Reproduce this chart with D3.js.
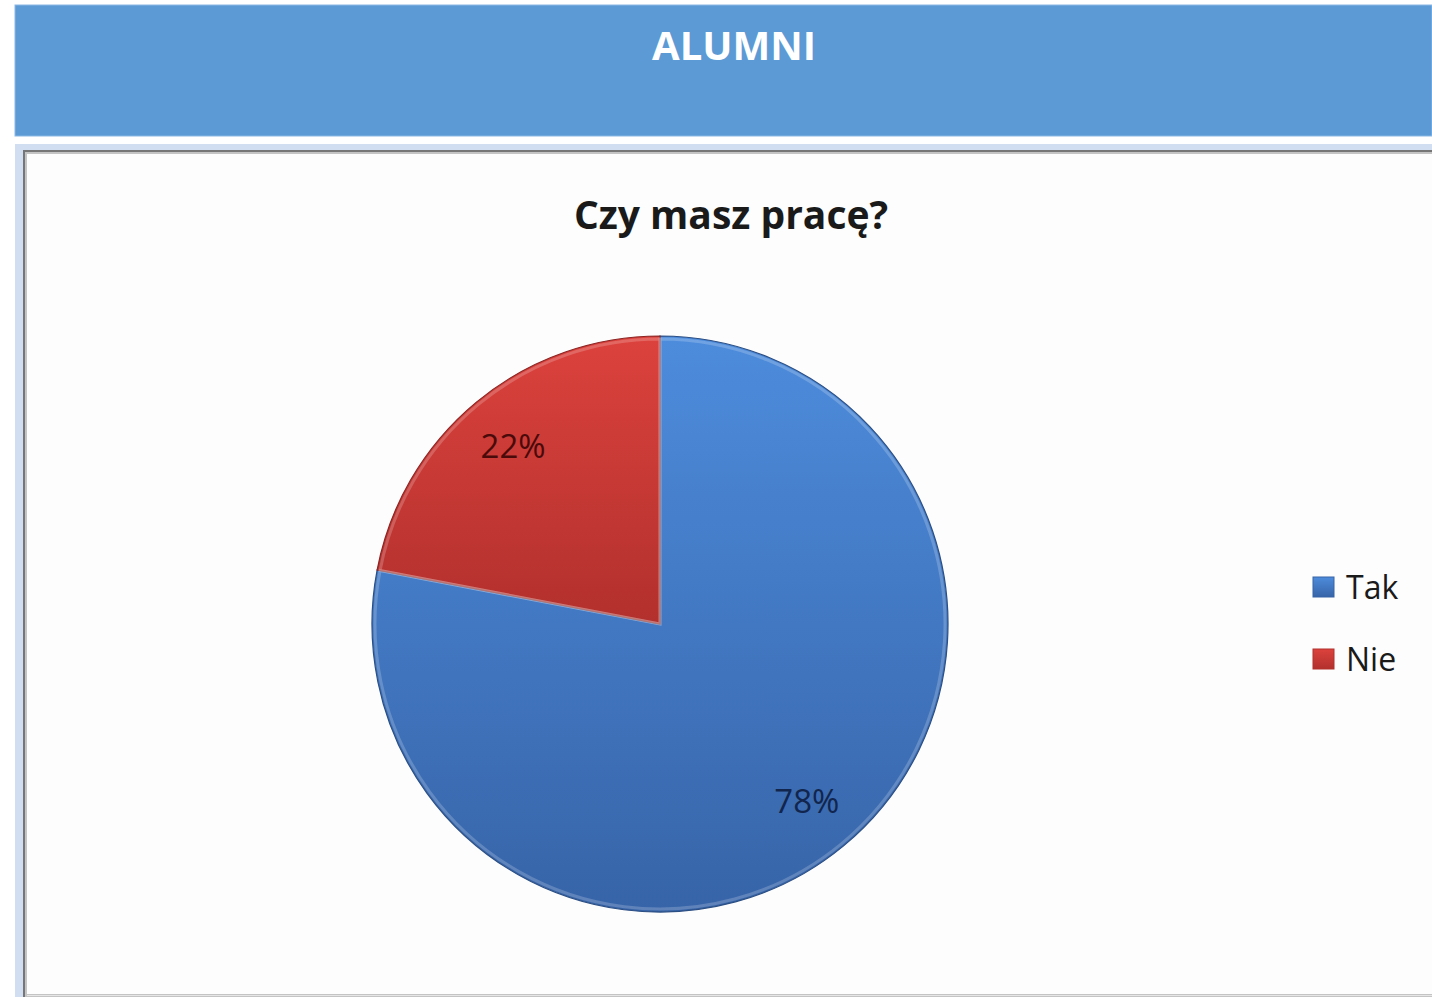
<!DOCTYPE html>
<html>
<head>
<meta charset="utf-8">
<script src="https://cdn.jsdelivr.net/npm/d3@7"></script>
<style>
  html, body { margin: 0; padding: 0; background: #fff; }
  svg { display: block; }
</style>
</head>
<body>
<svg id="chart" width="1432" height="997"></svg>
<script>
// data
var categories = ['Tak', 'Nie'];
var values = [78, 22];
var colors = ['#4a86d3', '#d33f3a'];
var colorsDark = ['#3764a8', '#b2302d'];

var svg = d3.select('#chart');
var defs = svg.append('defs');

// header band
svg.append('rect')
    .attr('x', 15).attr('y', 5)
    .attr('width', 1432 - 15).attr('height', 131)
    .attr('fill', '#5b9ad5')
    .attr('stroke', '#8bb8e4').attr('stroke-width', 1);
svg.append('text')
    .attr('x', 734).attr('y', 60)
    .attr('text-anchor', 'middle')
    .attr('font-family', 'Open Sans, sans-serif')
    .attr('font-weight', 'bold')
    .attr('font-size', 40)
    .attr('fill', '#fff')
    .text('ALUMNI');

// frame of the pasted chart
svg.append('rect')
    .attr('x', 15).attr('y', 144)
    .attr('width', 1432 - 15).attr('height', 997 - 144)
    .attr('fill', '#d1ddf0');
svg.append('rect')
    .attr('x', 23).attr('y', 150)
    .attr('width', 1432 - 23).attr('height', 997 - 150)
    .attr('fill', '#767676');
svg.append('rect')
    .attr('x', 25).attr('y', 152)
    .attr('width', 1432 - 25).attr('height', 997 - 152)
    .attr('fill', '#c4c4c4');
svg.append('rect')
    .attr('x', 27).attr('y', 154)
    .attr('width', 1432 - 27).attr('height', 840)
    .attr('fill', '#fdfdfd');
svg.append('line')
    .attr('x1', 27).attr('x2', 1432)
    .attr('y1', 995.5).attr('y2', 995.5)
    .attr('stroke', '#e6e6e6');

// chart title
svg.append('text')
    .attr('x', 731).attr('y', 229)
    .attr('text-anchor', 'middle')
    .attr('font-family', 'Open Sans, sans-serif')
    .attr('font-weight', 'bold')
    .attr('font-size', 39)
    .attr('fill', '#1a1a1a')
    .text('Czy masz pracę?');

// pie
var cx = 660, cy = 624, r = 288;

categories.forEach(function (c, i) {
    var g = defs.append('linearGradient')
        .attr('id', 'grad' + i)
        .attr('x1', 0).attr('y1', 0).attr('x2', 0).attr('y2', 1);
    g.append('stop').attr('offset', '0%').attr('stop-color', d3.color(colors[i]).brighter(0.12));
    g.append('stop').attr('offset', '100%').attr('stop-color', colorsDark[i]);
});

var pie = d3.pie().sort(null).value(d => d);
var arcs = pie(values);
var arc = d3.arc().innerRadius(0).outerRadius(r);
var bevel = d3.arc().innerRadius(0).outerRadius(r - 3);

var pg = svg.append('g').attr('transform', 'translate(' + cx + ',' + cy + ')');

pg.selectAll('path.slice')
    .data(arcs)
    .enter()
    .append('path')
    .attr('class', 'slice')
    .attr('d', arc)
    .attr('fill', (d, i) => 'url(#grad' + i + ')')
    .attr('stroke', (d, i) => d3.color(colorsDark[i]).darker(0.7))
    .attr('stroke-width', 1.2);

// soft bevel highlight
pg.selectAll('path.bevel')
    .data(arcs)
    .enter()
    .append('path')
    .attr('class', 'bevel')
    .attr('d', bevel)
    .attr('fill', 'none')
    .attr('stroke', '#ffffff')
    .attr('stroke-opacity', 0.2)
    .attr('stroke-width', 3);

var labelArc = d3.arc().innerRadius(r * 0.8).outerRadius(r * 0.8);
var labelColors = ['#11254d', '#4a0a0a'];
pg.selectAll('text.lbl')
    .data(arcs)
    .enter()
    .append('text')
    .attr('class', 'lbl')
    .attr('transform', d => 'translate(' + labelArc.centroid(d) + ')')
    .attr('dy', '0.36em')
    .attr('text-anchor', 'middle')
    .attr('font-family', 'Open Sans, sans-serif')
    .attr('font-size', 33)
    .attr('fill', (d, i) => labelColors[i])
    .text(d => d.data + '%');

// legend
var legend = svg.append('g').attr('transform', 'translate(1313,587)');
var item = legend.selectAll('g')
    .data(categories)
    .enter()
    .append('g')
    .attr('transform', (d, i) => 'translate(0,' + i * 72 + ')');
item.append('rect')
    .attr('x', 0).attr('y', -10)
    .attr('width', 21).attr('height', 20)
    .attr('fill', (d, i) => 'url(#grad' + i + ')')
    .attr('stroke', (d, i) => colorsDark[i]);
item.append('text')
    .attr('x', 33).attr('y', 0)
    .attr('dy', '0.36em')
    .attr('font-family', 'Open Sans, sans-serif')
    .attr('font-size', 32)
    .attr('fill', '#1a1a1a')
    .text(d => d);
</script>
</body>
</html>
